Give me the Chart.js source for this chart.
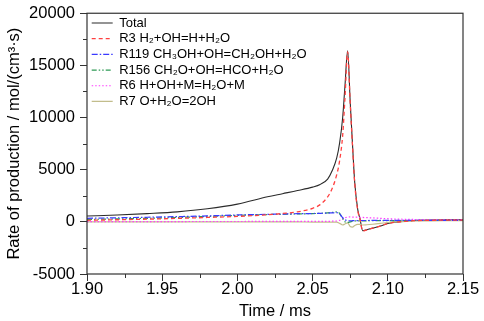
<!DOCTYPE html>
<html>
<head>
<meta charset="utf-8">
<script src="https://cdn.jsdelivr.net/npm/chart.js@4/dist/chart.umd.min.js"></script>
<style>
  html, body { margin: 0; padding: 0; background: #fff; }
  #wrap { width: 484px; height: 321px; }
</style>
</head>
<body>
<div id="wrap"><canvas id="myChart"></canvas></div>
<script>
// time (ms)
var times = [1.90, 1.92, 1.94, 1.96, 1.98, 2.00, 2.02, 2.03, 2.04, 2.05, 2.055, 2.06, 2.063, 2.066, 2.068, 2.070,
  2.0715, 2.0733, 2.075, 2.0765, 2.078, 2.080, 2.0815, 2.0833, 2.086, 2.09, 2.095, 2.10, 2.11, 2.12, 2.13, 2.14, 2.15];

// rate of production, mol/(cm3 s)
var total = [560, 650, 790, 960, 1250, 1700, 2400, 2700, 3000, 3330, 3580, 4100, 4900, 6100, 7600, 10000,
  13000, 16400, 11500, 7500, 3800, 1200, 300, -850, -750, -600, -400, -150, 50, 150, 180, 190, 190];
var r3 = [150, 200, 260, 330, 420, 520, 680, 800, 960, 1300, 1650, 2400, 3200, 4500, 5900, 8300,
  11800, 16300, 11400, 7400, 3700, 1100, 250, -880, -760, -600, -400, -160, 30, 120, 150, 160, 160];
var r119 = [340, 390, 440, 500, 570, 660, 720, 750, 780, 800, 820, 840, 860, 880, 750, 400,
  200, 120, 100, 110, 120, 120, 130, 130, 130, 140, 140, 140, 150, 150, 150, 150, 150];
var r156 = [230, 280, 340, 420, 520, 620, 700, 730, 760, 790, 820, 860, 900, 950, 800, 300,
  0, -50, 0, 50, 80, 100, 100, 100, 100, 110, 110, 120, 120, 130, 130, 130, 130];
var r6 = [30, 30, 30, 30, 35, 35, 40, 40, 45, 45, 50, 50, 60, 80, 150, 300,
  400, 450, 470, 460, 450, 440, 430, 420, 400, 380, 340, 300, 250, 220, 200, 190, 180];
var r7 = [0, 0, 0, 0, 0, 0, -10, -10, -10, -20, -20, -20, -30, -30, -150, -300,
  -200, -100, -450, -500, -350, -250, -250, -300, -280, -230, -150, -60, 30, 80, 100, 110, 120];

var labels = ["Total", "R3 H₂+OH=H+H₂O", "R119 CH₃OH+OH=CH₂OH+H₂O", "R156 CH₂O+OH=HCO+H₂O",
  "R6 H+OH+M=H₂O+M", "R7 O+H₂O=2OH"];

function pts(vals) {
  return times.map(function (t, i) { return { x: t, y: vals[i] }; });
}

var data = {
  datasets: [
    { label: labels[0], data: pts(total), borderColor: '#2b2b2b', borderWidth: 1.1, order: 6 },
    { label: labels[1], data: pts(r3), borderColor: '#ff4040', borderWidth: 1.3, borderDash: [4, 3], order: 1 },
    { label: labels[2], data: pts(r119), borderColor: '#3a3aff', borderWidth: 1.2, borderDash: [6, 2, 1.5, 2], order: 2 },
    { label: labels[3], data: pts(r156), borderColor: '#2e9a55', borderWidth: 1.2, borderDash: [5, 2, 1.5, 2, 1.5, 2], order: 3 },
    { label: labels[4], data: pts(r6), borderColor: '#ff3cff', borderWidth: 1.2, borderDash: [1.5, 2], order: 4 },
    { label: labels[5], data: pts(r7), borderColor: '#c2bd8c', borderWidth: 1.2, order: 5 }
  ]
};

var frame = {
  id: 'frame',
  afterLayout: function (chart) {
    // legend sits inside the plot box, top-left
    var lg = chart.legend, a = chart.chartArea;
    var h = lg.height;
    lg.left = a.left + 2; lg.right = lg.left + lg.width;
    lg.top = a.top + 0.5; lg.bottom = lg.top + h;
  },
  afterDatasetsDraw: function (chart) {
    var c = chart.ctx, a = chart.chartArea;
    var xs = chart.scales.x, ys = chart.scales.y;
    c.save();
    c.strokeStyle = '#333';
    c.lineWidth = 1.2;
    c.strokeRect(a.left, a.top, a.right - a.left, a.bottom - a.top);
    // minor ticks
    c.lineWidth = 1;
    c.beginPath();
    for (var t = 1.925; t < 2.15; t += 0.05) {
      var px = Math.round(xs.getPixelForValue(t)) + 0.5;
      c.moveTo(px, a.bottom); c.lineTo(px, a.bottom + 4);
    }
    for (var v = -2500; v < 20000; v += 5000) {
      var py = Math.round(ys.getPixelForValue(v)) + 0.5;
      c.moveTo(a.left, py); c.lineTo(a.left - 4, py);
    }
    c.stroke();
    c.restore();
  }
};

var font = "'Liberation Sans', Arial, sans-serif";

var options = {
  responsive: true,
  maintainAspectRatio: false,
  animation: false,
  layout: { padding: { top: 9, right: 21, left: 0, bottom: 0 } },
  elements: {
    point: { radius: 0 },
    line: { tension: 0.4, cubicInterpolationMode: 'monotone', fill: false }
  },
  scales: {
    x: {
      type: 'linear',
      min: 1.9, max: 2.15,
      ticks: { stepSize: 0.05, color: '#000', padding: 0, maxRotation: 0,
        font: { family: font, size: 16.5, lineHeight: 1 },
        callback: function (v) { return v.toFixed(2); } },
      grid: { drawOnChartArea: false, tickLength: 7, color: '#333', lineWidth: 1 },
      border: { display: false },
      title: { display: true, text: 'Time / ms', color: '#000', padding: { top: 4, bottom: 0 },
        font: { family: font, size: 16.5 } },
      afterFit: function (s) { s.height = 47; }
    },
    y: {
      min: -5000, max: 20000,
      ticks: { stepSize: 5000, color: '#000', padding: 5,
        font: { family: font, size: 16.5, lineHeight: 1 },
        callback: function (v) { return String(v); } },
      grid: { drawOnChartArea: false, tickLength: 7, color: '#333', lineWidth: 1 },
      border: { display: false },
      title: { display: true, text: 'Rate of production / mol/(cm³·s)', color: '#000',
        padding: { top: 5, bottom: 0 }, font: { family: font, size: 16.5 } },
      afterFit: function (s) { s.width = 87; }
    }
  },
  plugins: {
    legend: {
      position: 'chartArea',
      align: 'start',
      labels: {
        usePointStyle: true, pointStyle: 'line', pointStyleWidth: 21,
        padding: 2.7, color: '#000', font: { family: font, size: 13 },
        sort: function (a, b) { return a.datasetIndex - b.datasetIndex; },
        generateLabels: function (chart) {
          var items = Chart.defaults.plugins.legend.labels.generateLabels(chart);
          items.forEach(function (it) {
            var ds = chart.data.datasets[it.datasetIndex];
            it.strokeStyle = ds.borderColor;
            it.lineWidth = ds.borderWidth;
            it.lineDash = ds.borderDash || [];
            it.pointStyle = 'line';
          });
          return items;
        }
      }
    },
    tooltip: { enabled: false }
  }
};

var ctx = document.getElementById('myChart').getContext('2d');
var myChart = new Chart(ctx, {
  type: 'line',
  data: data,
  options: options,
  plugins: [frame]
});
</script>
</body>
</html>
